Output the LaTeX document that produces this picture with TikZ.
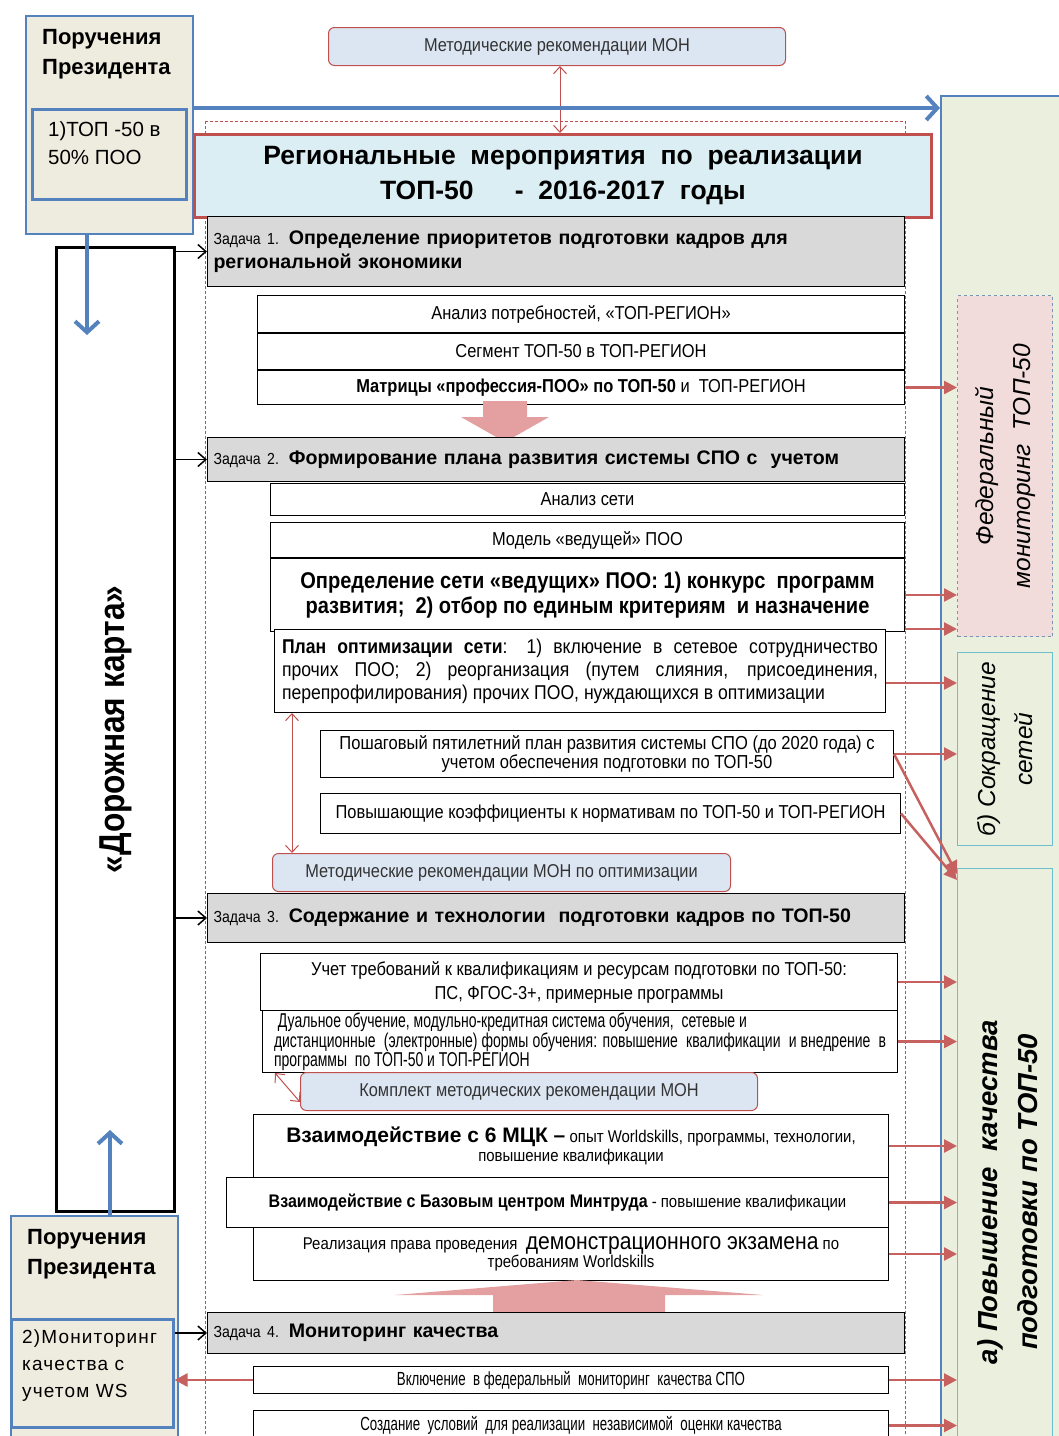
\documentclass[tikz,border=0pt]{standalone}
\usepackage{fontspec}
\setmainfont{Liberation Sans}
\newfontfamily\narrow[FakeStretch=0.88]{Liberation Sans}
\newfontfamily\xnarrow[FakeStretch=0.7]{Liberation Sans}
\newfontfamily\spaced[LetterSpace=6]{Liberation Sans}
\usetikzlibrary{positioning}
\usetikzlibrary{arrows.meta}

\definecolor{bluebd}{RGB}{84,130,190}
\definecolor{redbd}{RGB}{192,80,77}
\definecolor{pinkar}{RGB}{228,160,160}
\definecolor{beige}{RGB}{238,236,222}
\definecolor{panelgr}{RGB}{235,240,222}
\definecolor{titleblue}{RGB}{218,238,243}
\definecolor{methblue}{RGB}{220,230,242}
\definecolor{taskgray}{RGB}{217,217,217}
\definecolor{fedpink}{RGB}{242,220,219}
\definecolor{cyanbd}{RGB}{110,190,205}
\definecolor{dashbd}{RGB}{120,150,180}

\newcommand{\zd}[1]{{\mdseries\narrow\fontsize{16}{18}\selectfont #1}}

\begin{document}
\begin{tikzpicture}
[
x=1pt, y=-1pt,
box-a/.style={draw, line width=1pt, fill=white, anchor=north west, inner sep=2pt, align=center,
  font=\narrow\fontsize{18.7}{22}\selectfont},
task-a/.style={draw, line width=1pt, fill=taskgray, anchor=north west, minimum width=697pt,
  text width=685pt, inner sep=5pt, align=left, font=\bfseries\fontsize{19.6}{24}\selectfont},
meth-a/.style={draw=redbd, line width=1pt, fill=methblue, rounded corners=6pt, anchor=north west,
  inner sep=2pt, text=black!80, font=\narrow\fontsize{18.6}{20}\selectfont},
pres-a/.style={draw=bluebd, fill=beige, line width=2pt, anchor=north west},
side-a/.style={fill=panelgr, anchor=north west, minimum width=95pt, line width=1pt},
text-a/.style={anchor=north west, align=left, inner sep=0pt},
text-r/.style={rotate=90, align=center, font=\itshape\fontsize{24.5}{37}\selectfont},
arr-b/.style={-{Straight Barb[length=11pt,width=24pt]}, bluebd, line width=4pt},
arr-r/.style={-{Triangle[length=13pt,width=13pt]}, redbd!90, line width=2.5pt},
arr-k/.style={-{Straight Barb[length=8pt,width=14pt]}, black, line width=1.5pt},
arr-d/.style={{Straight Barb[length=7pt,width=13pt]}-{Straight Barb[length=7pt,width=13pt]}, redbd, line width=1pt},
]
\useasboundingbox (0,0) rectangle (1059,1436);
\clip (0,0) rectangle (1059,1436);

% right panel
\node (side) [draw=bluebd, fill=panelgr, line width=2pt, anchor=north west,
  minimum width=140pt, minimum height=1360pt] at (940,95) {};
\node (fed) [side-a, draw=dashbd, dashed, fill=fedpink, minimum height=341pt] at (957,295) {};
\node (sok) [side-a, draw=cyanbd, minimum height=193pt] at (957,652) {};
\node (pov) [side-a, draw=cyanbd, minimum height=580pt] at (957,868) {};
\node (fedl) [text-r] at (fed.center) {Федеральный\\мониторинг\ \ ТОП-50};
\node (sokl) [text-r] at (sok.center) {б) Сокращение\\сетей};
\node (povl) [text-r, font=\bfseries\itshape\fontsize{27.5}{40}\selectfont] at (1008,1192)
  {а) Повышение\ \ качества\\подготовки по ТОП-50};

% dashed frame
\draw[redbd, densely dashed, line width=0.7pt] (205,121) rectangle (905,1450);

% president
\node (p1) [pres-a, minimum width=167pt, minimum height=218pt] at (25,15) {};
\node (p1i) [pres-a, line width=2.5pt, minimum width=154pt, minimum height=90pt] at (31,108) {};
\node (p1t) [text-a, font=\bfseries\fontsize{22}{30}\selectfont] at (42,29) {Поручения\\Президента};
\node (p1it) [text-a, font=\fontsize{20.5}{28}\selectfont] at (48,121) {1)ТОП -50 в\\50\% ПОО};

\node (m1) [meth-a, minimum width=457pt, minimum height=38pt] at (328,27) {Методические рекомендации МОН};
\node (t0) [draw=redbd, line width=3pt, fill=titleblue, anchor=north west, minimum width=737pt,
  minimum height=83pt, align=center, font=\bfseries\fontsize{26.5}{35}\selectfont] at (193,133)
  {Региональные\ \ мероприятия\ \ по\ \ реализации\\ТОП-50\quad\ \ -\ \ 2016-2017\ \ годы};
\coordinate (v0) at (560,0);
\draw[arr-d] (m1.south -| v0) -- (t0.north -| v0);

% task 1
\node (z1) [task-a, minimum height=70pt] at (207,216)
  {\zd{Задача 1.} Определение приоритетов подготовки кадров для\\региональной экономики};
\node (a1) [box-a, minimum width=647pt, minimum height=37pt] at (257,295) {Анализ потребностей,\ «ТОП-РЕГИОН»};
\node (a2) [box-a, minimum width=647pt, minimum height=36pt, below=0pt of a1] {Сегмент ТОП-50 в ТОП-РЕГИОН};
\node (a3) [box-a, minimum width=647pt, minimum height=34pt, below=0pt of a2]
  {\textbf{Матрицы «профессия-ПОО» по ТОП-50} и\ \ ТОП-РЕГИОН};
\fill[pinkar] (483,401) -- (527,401) -- (527,417) -- (549,417) -- (505,442) -- (461,417) -- (483,417) -- cycle;

% task 2
\node (z2) [task-a, minimum height=44pt] at (207,437)
  {\zd{Задача 2.} Формирование плана развития системы СПО с\ \ учетом};
\node (b1) [box-a, minimum width=634pt, minimum height=32pt] at (270,483) {Анализ сети};
\node (b2) [box-a, minimum width=634pt, minimum height=35pt, below=6pt of b1] {Модель «ведущей» ПОО};
\node (b3) [box-a, minimum width=634pt, minimum height=73pt, below=0pt of b2,
  font=\narrow\bfseries\fontsize{22.8}{25}\selectfont]
  {Определение сети «ведущих» ПОО: 1) конкурс\ \ программ\\развития;\ \ 2) отбор по единым критериям\ \ и назначение};
\node (b4) [box-a, minimum width=611pt, minimum height=83pt, text width=596pt, align=justify,
  font=\narrow\fontsize{20}{23}\selectfont] at (274,629)
  {\textbf{План оптимизации сети}: 1) включение в сетевое сотрудничество\linebreak
   прочих ПОО; 2) реорганизация (путем слияния, присоединения,\linebreak
   перепрофилирования) прочих ПОО, нуждающихся в оптимизации};
\node (b5) [box-a, minimum width=573pt, minimum height=47pt, font=\narrow\fontsize{18.8}{19}\selectfont] at (320,730)
  {Пошаговый пятилетний план развития системы СПО (до 2020 года) с\\учетом обеспечения подготовки по ТОП-50};
\node (b6) [box-a, minimum width=580pt, minimum height=40pt] at (320,793)
  {Повышающие коэффициенты к нормативам по ТОП-50 и ТОП-РЕГИОН};
\node (m2) [meth-a, minimum width=458pt, minimum height=38pt] at (272,853) {Методические рекомендации МОН по оптимизации};
\coordinate (v1) at (292,0);
\draw[arr-d] (b4.south -| v1) -- (m2.north -| v1);

% task 3
\node (z3) [task-a, minimum height=49pt] at (207,893)
  {\zd{Задача 3.} Содержание и технологии\ \ подготовки кадров по ТОП-50};
\node (c1) [box-a, minimum width=637pt, minimum height=57pt, font=\narrow\fontsize{18.7}{24}\selectfont] at (260,953)
  {Учет требований к квалификациям и ресурсам подготовки по ТОП-50:\\ПС, ФГОС-3+, примерные программы};
\node (c2) [box-a, minimum width=635pt, minimum height=62pt, text width=612pt, align=justify,
  font=\xnarrow\fontsize{20}{17}\selectfont] at (262,1010)
  {\ Дуальное обучение, модульно-кредитная система обучения,\ \ сетевые и\\
   дистанционные\ \ (электронные) формы обучения: повышение\ \ квалификации\ \ и внедрение\ \ в\linebreak
   программы\ \ по ТОП-50 и ТОП-РЕГИОН};
\node (m3) [meth-a, minimum width=457pt, minimum height=38pt] at (300,1072) {Комплект методических рекомендации МОН};
\draw[arr-d] ([xshift=13pt]c2.south west) -- ([yshift=9pt]m3.south west);
\node (d1) [box-a, minimum width=635pt, minimum height=63pt, font=\narrow\fontsize{17}{19}\selectfont] at (253,1114)
  {{\bfseries\fontsize{21}{22}\selectfont\rmfamily Взаимодействие с 6 МЦК –} опыт Worldskills, программы, технологии,\\повышение квалификации};
\node (d2) [box-a, minimum width=662pt, minimum height=50pt, font=\narrow\fontsize{17}{19}\selectfont] at (226,1177)
  {{\bfseries\fontsize{18.2}{20}\selectfont Взаимодействие с Базовым центром Минтруда} - повышение квалификации};
\node (d3) [box-a, minimum width=635pt, minimum height=53pt, font=\narrow\fontsize{17}{18}\selectfont] at (253,1227)
  {Реализация права проведения\ \ {\fontsize{24}{22}\selectfont демонстрационного экзамена} по\\требованиям Worldskills};
\fill[pinkar] (493,1313) -- (665,1313) -- (665,1295) -- (763,1295) -- (577,1280) -- (395,1295) -- (493,1295) -- cycle;

% task 4
\node (z4) [task-a, minimum height=41pt] at (207,1312) {\zd{Задача 4.} Мониторинг качества};
\node (e1) [box-a, minimum width=635pt, minimum height=27pt, font=\xnarrow\fontsize{19}{20}\selectfont] at (253,1366)
  {Включение\ \ в федеральный\ \ мониторинг\ \ качества СПО};
\node (e2) [box-a, minimum width=635pt, minimum height=30pt, font=\xnarrow\fontsize{19}{20}\selectfont] at (253,1410)
  {Создание\ \ условий\ \ для реализации\ \ независимой\ \ оценки качества};

% road map and second order
\node (dk) [draw, line width=3pt, fill=white, anchor=north west, minimum width=118pt, minimum height=964pt] at (55,246) {};
\node (dkl) [rotate=90, font=\narrow\bfseries\fontsize{36}{40}\selectfont] at (dk.center) {«Дорожная карта»};
\node (p2) [pres-a, minimum width=167pt, minimum height=225pt] at (10,1215) {};
\node (p2i) [pres-a, line width=2.5pt, minimum width=162pt, minimum height=108pt] at (10,1318) {};
\node (p2t) [text-a, font=\bfseries\fontsize{22}{30}\selectfont] at (27,1229) {Поручения\\Президента};
\node (p2it) [text-a, font=\spaced\fontsize{19}{27}\selectfont] at (22,1330) {2)Мониторинг\\качества с\\учетом WS};

% arrows
\coordinate (q1) at (87,335);
\coordinate (q2) at (110,1130);
\draw[arr-b] (p1.south -| q1) -- (q1);
\draw[arr-b] (p2.north -| q2) -- (q2);
\draw[arr-b] (p1i.north -| p1.east) -- (p1i.north -| side.west);

\draw[arr-k] (dk.east |- z1.west) -- (z1.west);
\draw[arr-k] (dk.east |- z2.west) -- (z2.west);
\draw[arr-k] (dk.east |- z3.west) -- (z3.west);
\draw[arr-k] (p2i.east |- z4.west) -- (z4.west);

\coordinate (r1) at ([yshift=3pt]b3.south east);
\coordinate (r2) at ([yshift=-12pt]b4.east);
\draw[arr-r] (a3.east) -- (a3.east -| fed.west);
\draw[arr-r] (b3.east) -- (b3.east -| fed.west);
\draw[arr-r] (r1) -- (r1 -| fed.west);
\draw[arr-r] (r2) -- (r2 -| sok.west);
\draw[arr-r] (b5.east) -- (b5.east -| sok.west);
\draw[arr-r] (b5.east) -- ([yshift=-6pt]pov.north west);
\draw[arr-r] (b6.east) -- ([yshift=-12pt]pov.north west);
\draw[arr-r] (c1.east) -- (c1.east -| pov.west);
\draw[arr-r] (c2.east) -- (c2.east -| pov.west);
\draw[arr-r] (d1.east) -- (d1.east -| pov.west);
\draw[arr-r] (d2.east) -- (d2.east -| pov.west);
\draw[arr-r] (d3.east) -- (d3.east -| pov.west);
\draw[arr-r] (e1.east) -- (e1.east -| pov.west);
\draw[arr-r] (e2.east) -- (e2.east -| pov.west);
\draw[arr-r] (e1.west) -- (e1.west -| p2i.east);
\end{tikzpicture}
\end{document}
